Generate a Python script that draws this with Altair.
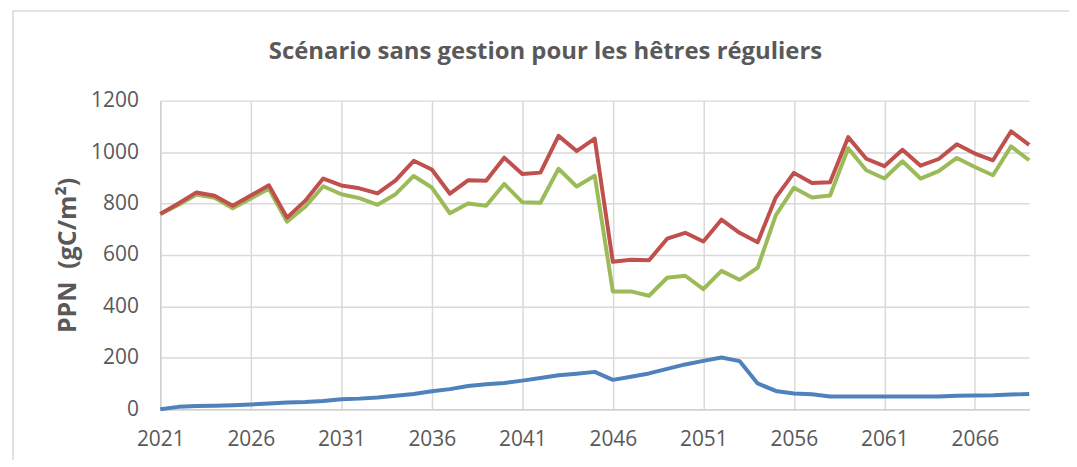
import altair as alt
import pandas as pd

years = list(range(2021, 2070))

blue = [0, 9, 12, 13, 15, 18, 22, 26, 28, 32, 39, 41, 45, 52, 59, 70, 78,
        90, 97, 102, 111, 121, 132, 138, 145, 114, 126, 139, 157, 174, 188, 201, 187, 100,
        71, 61, 58, 49, 49, 49, 49, 49, 49, 49, 52, 53, 54, 57, 59]

red = [759, 800, 843, 830, 791, 831, 871, 745, 810, 897, 870, 859, 839, 890, 966, 932, 838,
       890, 888, 978, 915, 920, 1063, 1004, 1052, 573, 581, 579, 663, 686, 652, 737, 686, 649,
       823, 919, 880, 883, 1058, 974, 945, 1009, 947, 973, 1030, 994, 968, 1081, 1028]

green = [759, 794, 835, 822, 781, 819, 857, 729, 787, 867, 836, 821, 795, 836, 907, 862, 762,
         800, 791, 876, 805, 803, 935, 866, 908, 458, 458, 441, 511, 519, 467, 538, 503, 550,
         754, 861, 823, 831, 1015, 929, 897, 964, 897, 926, 977, 942, 910, 1022, 968]

series_names = ["Série 1", "Série 2", "Série 3"]
series_colors = ["#4F81BD", "#9BBB59", "#C0504D"]
x_ticks = [2021, 2026, 2031, 2036, 2041, 2046, 2051, 2056, 2061, 2066]
y_ticks = [0, 200, 400, 600, 800, 1000, 1200]
title_text = "Scénario sans gestion pour les hêtres réguliers"

rows = []
for name, vals in zip(series_names, [blue, green, red]):
    for yr, v in zip(years, vals):
        rows.append({"Année": yr, "PPN": v, "Série": name})
df = pd.DataFrame(rows)

FONT = "Open Sans"
GREY = "#595959"

lines = alt.Chart(df).mark_line(strokeWidth=4, strokeJoin="round").encode(
    x=alt.X("Année:Q",
            scale=alt.Scale(domain=[2021, 2069], nice=False, zero=False),
            axis=alt.Axis(values=x_ticks, format="d", title=None, grid=True,
                          gridColor="#D9D9D9", gridWidth=1.5, ticks=False,
                          domainColor="#D0D0D0", domainWidth=1.5,
                          labelPadding=20, labelFontSize=21, labelColor=GREY,
                          labelFont=FONT, labelFlush=False)),
    y=alt.Y("PPN:Q",
            scale=alt.Scale(domain=[0, 1200], nice=False),
            axis=alt.Axis(values=y_ticks, format="d", title="PPN\u00a0\u00a0(gC/m²)", grid=True,
                          gridColor="#D9D9D9", gridWidth=1.5, ticks=False,
                          domainColor="#D0D0D0", domainWidth=1.5,
                          labelPadding=22, labelFontSize=21, labelColor=GREY,
                          labelFont=FONT, titleFont=FONT, titleFontSize=25,
                          titleFontWeight="bold", titleColor=GREY, titlePadding=10)),
    color=alt.Color("Série:N", scale=alt.Scale(domain=series_names, range=series_colors),
                    legend=None),
    order=alt.Order("Année:Q"),
)

frame = alt.Chart(pd.DataFrame({"a": [0]})).mark_rect(
    fill=None, stroke="#D9D9D9", strokeWidth=1.5
).encode(
    x=alt.value(-148), x2=alt.value(960), y=alt.value(-90), y2=alt.value(400)
)

title = alt.Chart(pd.DataFrame({"t": [title_text]})).mark_text(
    font=FONT, fontSize=24, fontWeight="bold", color=GREY,
    align="center", baseline="alphabetic"
).encode(
    text="t:N", x=alt.value(387), y=alt.value(-42)
)

chart = alt.layer(frame, lines, title).properties(
    width=873,
    height=310,
    padding={"left": 153, "top": 92, "right": 40, "bottom": 50},
    autosize=alt.AutoSizeParams(type="none"),
).configure_view(stroke=None)

chart.save("out.html", embed_options={"renderer": "svg", "actions": False})
